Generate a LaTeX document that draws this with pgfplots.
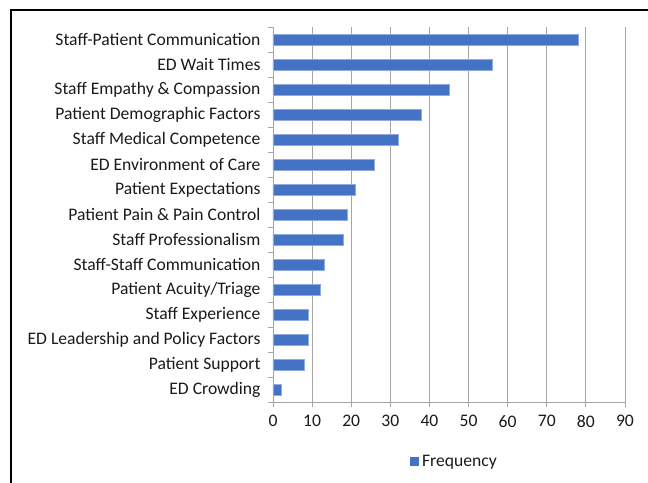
\documentclass[border=0pt]{standalone}
\usepackage{pgfplots}
\pgfplotsset{compat=1.18}
\usepackage{fontspec}
\setmainfont{Carlito}
\definecolor{barblue}{HTML}{4472C4}
\definecolor{gridgray}{HTML}{A6A6A6}
\definecolor{txt}{HTML}{1A1A1A}
\begin{document}
\begin{tikzpicture}[x=1pt,y=1pt]
\useasboundingbox (0,0) rectangle (648,482);
\draw[black, line width=1.6pt] (11,-5) -- (11,472) -- (655,472);
\begin{axis}[
  at={(273pt,80pt)}, anchor=south west,
  scale only axis, width=352pt, height=375pt,
  xmin=0, xmax=90, ymin=0.5, ymax=15.5,
  y dir=reverse,
  xtick={0,10,...,90},
  ytick={1,...,15},
  yticklabels={Staff-Patient Communication, ED Wait Times, Staff Empathy \& Compassion, Patient Demographic Factors, Staff Medical Competence, ED Environment of Care, Patient Expectations, Patient Pain \& Pain Control, Staff Professionalism, Staff-Staff Communication, Patient Acuity/Triage, Staff Experience, ED Leadership and Policy Factors, Patient Support, ED Crowding},
  minor ytick={0.5,1.5,...,15.5},
  major y tick style={draw=none},
  minor y tick style={draw=gridgray, line width=0.8pt},
  minor tick length=5pt,
  major tick length=5pt,
  x tick style={draw=gridgray, line width=0.8pt},
  tick align=outside,
  xmajorgrids, grid style={gridgray, line width=0.9pt},
  axis line style={gridgray, line width=0.9pt},
  axis x line*=bottom, axis y line*=left,
  tick label style={font=\fontsize{17.6}{19}\selectfont, text=txt},
  yticklabel style={xshift=-4pt},
  xticklabel style={yshift=-5pt},
  /pgf/number format/assume math mode=true,
  xbar, bar width=10.5pt,
  legend style={at={(0.515,-0.158)}, anchor=center, draw=none, fill=none,
    font=\fontsize{17.6}{19}\selectfont, text=txt},
  legend image code/.code={\fill[barblue] (0pt,-4pt) rectangle (8pt,4pt);},
  legend cell align=left,
]
\addplot[fill=barblue, draw=barblue!60!white, line width=0.4pt] coordinates {
(78,1) (56,2) (45,3) (38,4) (32,5) (26,6) (21,7) (19,8) (18,9) (13,10) (12,11) (9,12) (9,13) (8,14) (2,15)};
\addlegendentry{\hspace{2pt}Frequency}
\end{axis}
\end{tikzpicture}
\end{document}
